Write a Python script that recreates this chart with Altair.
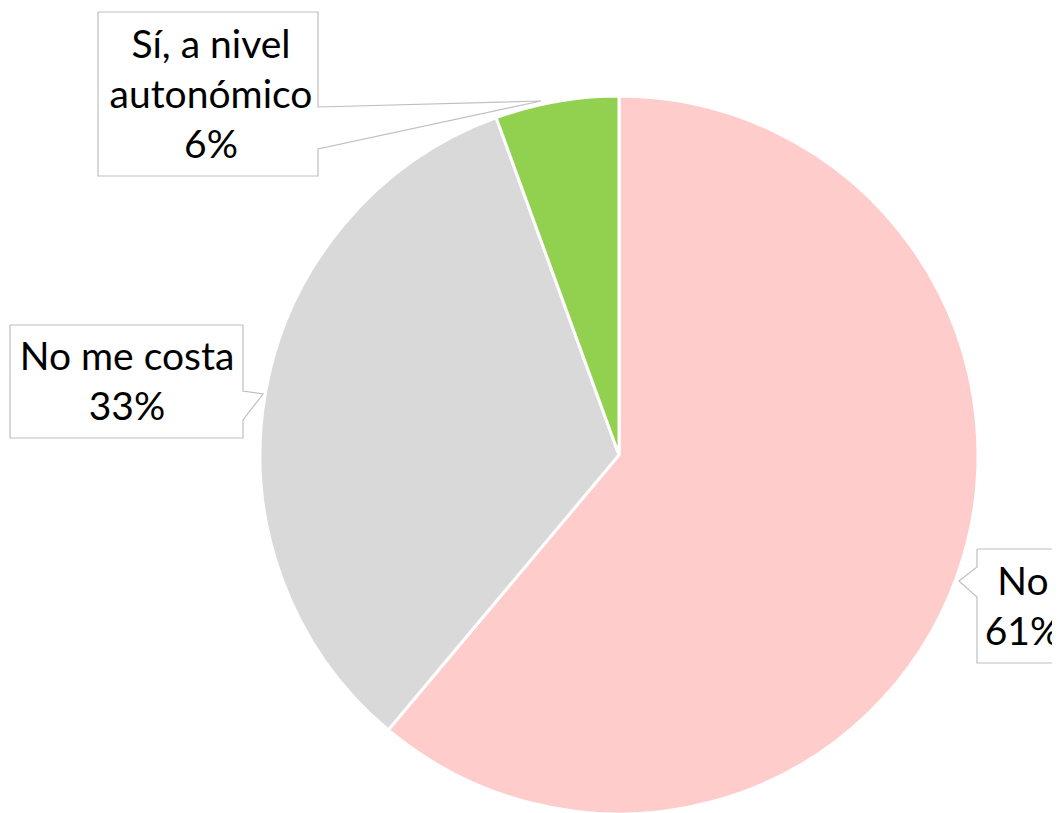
import altair as alt
import pandas as pd

categories = ["No", "No me costa", "Sí, a nivel autonómico"]
counts = [11, 6, 1]
label_lines = ["No", "No me costa", "Sí, a nivel\nautonómico"]
colors = ["#FFCCCC", "#D9D9D9", "#92D050"]

W, H = 1044, 805
FONT = "Lato"
FS = 39

total = sum(counts)
pcts = [round(100 * c / total) for c in counts]
df = pd.DataFrame({"cat": categories, "val": counts,
                   "label": [f"{l}\n{p}%" for l, p in zip(label_lines, pcts)],
                   "ord": list(range(len(categories)))})

o = 8  # page margin

pie = alt.Chart(df).mark_arc(outerRadius=359, stroke="white", strokeWidth=3).encode(
    theta=alt.Theta("val:Q", stack=True),
    order=alt.Order("ord:Q"),
    color=alt.Color("cat:N", scale=alt.Scale(domain=categories, range=colors), legend=None),
    x=alt.value(619 - o), y=alt.value(455 - o),
)

outlines = {
    "No": [(977, 549), (977, 567), (959, 581), (977, 597), (977, 663), (1075, 663),
           (1075, 549), (977, 549)],
    "No me costa": [(10, 325), (243, 325), (243, 391), (263, 394), (243, 420),
                    (243, 438), (10, 438), (10, 325)],
    "Sí, a nivel autonómico": [(98, 12), (318, 12), (318, 107), (541, 101), (318, 149),
                               (318, 176), (98, 176), (98, 12)],
}
rows = []
for k, pts in outlines.items():
    for i, (px, py) in enumerate(pts):
        rows.append({"cat": k, "i": i, "px": px - o, "py": py - o})
odf = pd.DataFrame(rows)

xs = alt.Scale(domain=[0, W], range=[0, W])
ys = alt.Scale(domain=[0, H], range=[0, H])

boxes = alt.Chart(odf).mark_line(color="#BFBFBF", strokeWidth=1.2, clip=False).encode(
    x=alt.X("px:Q", scale=xs, axis=None),
    y=alt.Y("py:Q", scale=ys, axis=None),
    detail="cat:N",
    order="i:Q",
)

# first-line centre of each label
text_pos = {"No": (1023, 583), "No me costa": (127, 358), "Sí, a nivel autonómico": (211, 46)}
texts = []
for k, (tx, ty) in text_pos.items():
    texts.append(
        alt.Chart(df).transform_filter(alt.datum.cat == k).mark_text(
            font=FONT, fontSize=FS, lineBreak="\n", lineHeight=50, color="black",
            align="center", baseline="middle"
        ).encode(text="label:N", x=alt.value(tx - o), y=alt.value(ty - o))
    )

chart = alt.layer(pie, boxes, *texts).properties(
    width=W, height=H, padding=0, autosize=alt.AutoSizeParams(type="none")
).configure_view(stroke=None)

chart.save("out.html", embed_options={"renderer": "svg", "actions": False})
